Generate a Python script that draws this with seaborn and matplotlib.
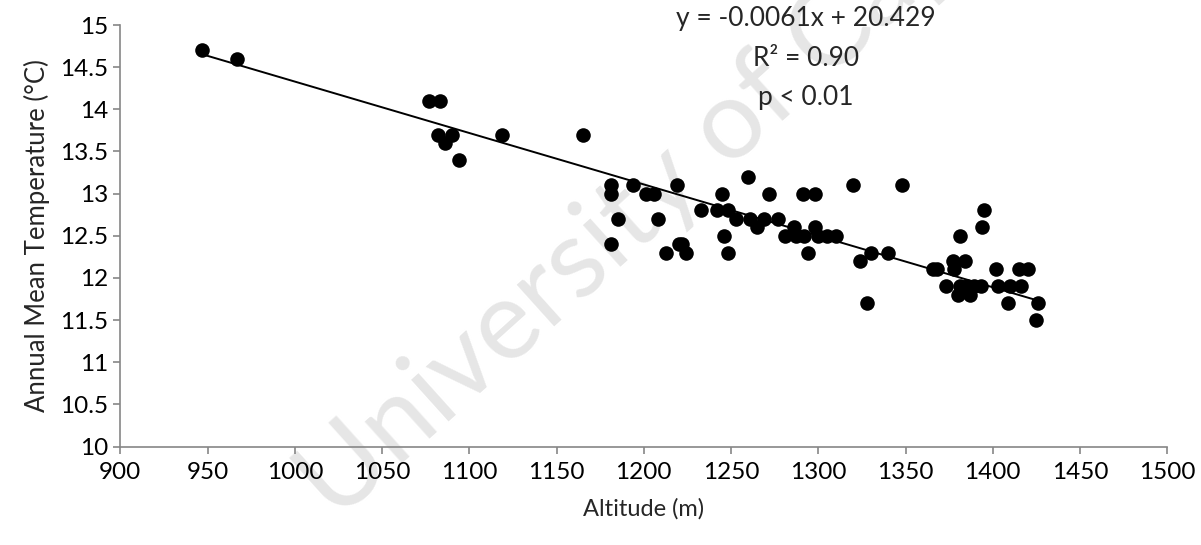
import numpy as np
import pandas as pd
import matplotlib
matplotlib.use("Agg")
import matplotlib.pyplot as plt
import seaborn as sns

# Altitude (m) and annual mean temperature (deg C)
altitude = [947, 967, 1077, 1083, 1082, 1090, 1086, 1094, 1119, 1165,
            1181, 1181, 1185, 1181, 1194, 1201, 1206, 1208, 1219, 1213,
            1220, 1222, 1224, 1233, 1242, 1245, 1248, 1246, 1248, 1260,
            1253, 1261, 1269, 1265, 1272, 1277, 1281, 1287, 1292, 1286,
            1291, 1298, 1298, 1294, 1300, 1305, 1310, 1320, 1330, 1324,
            1328, 1340, 1348, 1395, 1394, 1381, 1377, 1384, 1366, 1368,
            1378, 1402, 1415, 1420, 1373, 1381, 1385, 1389, 1393, 1380,
            1387, 1403, 1410, 1416, 1409, 1426, 1425]
temperature = [14.7, 14.6, 14.1, 14.1, 13.7, 13.7, 13.6, 13.4, 13.7, 13.7,
               13.1, 13.0, 12.7, 12.4, 13.1, 13.0, 13.0, 12.7, 13.1, 12.3,
               12.4, 12.4, 12.3, 12.8, 12.8, 13.0, 12.8, 12.5, 12.3, 13.2,
               12.7, 12.7, 12.7, 12.6, 13.0, 12.7, 12.5, 12.5, 12.5, 12.6,
               13.0, 13.0, 12.6, 12.3, 12.5, 12.5, 12.5, 13.1, 12.3, 12.2,
               11.7, 12.3, 13.1, 12.8, 12.6, 12.5, 12.2, 12.2, 12.1, 12.1,
               12.1, 12.1, 12.1, 12.1, 11.9, 11.9, 11.9, 11.9, 11.9, 11.8,
               11.8, 11.9, 11.9, 11.9, 11.7, 11.7, 11.5]

# trendline reported on the chart
slope = -0.0061
intercept = 20.429

x_ticks = list(range(900, 1501, 50))
y_ticks = [10, 10.5, 11, 11.5, 12, 12.5, 13, 13.5, 14, 14.5, 15]
y_tick_labels = ["10", "10.5", "11", "11.5", "12", "12.5", "13", "13.5", "14", "14.5", "15"]

df = pd.DataFrame({"Altitude": altitude, "Temp": temperature})
trend_x = [min(altitude), max(altitude)]
trend = pd.DataFrame({"Altitude": trend_x,
                      "Temp": [slope * v + intercept for v in trend_x]})

sns.set_style("white")
plt.rcParams["font.family"] = ["Lato", "DejaVu Sans"]

fig = plt.figure(figsize=(12.01, 5.45), dpi=100)
ax = fig.add_axes([0.1002, 0.1807, 0.8717, 0.7734])
ax.set_facecolor("none")

# watermark
fig.text(0.28, 0.04, "University of Cape Town", fontsize=80, color="#e6e6e6",
         rotation=42, rotation_mode="anchor", ha="left", va="baseline", zorder=-1)

sns.lineplot(data=trend, x="Altitude", y="Temp", ax=ax, color="black",
             linewidth=1.4, zorder=2)
sns.scatterplot(data=df, x="Altitude", y="Temp", ax=ax, color="black",
                s=110, edgecolor="black", linewidth=0, zorder=3)

ax.set_xlim(900, 1500)
ax.set_ylim(10, 15)
ax.set_xticks(x_ticks)
ax.set_yticks(y_ticks)
ax.set_yticklabels(y_tick_labels)
ax.tick_params(axis="both", labelsize=17.5, colors="black", direction="out",
               length=5, width=1.2, color="#868686", left=True, bottom=True, pad=6)
ax.tick_params(axis="y", pad=4)
for side in ["top", "right"]:
    ax.spines[side].set_visible(False)
for side in ["left", "bottom"]:
    ax.spines[side].set_color("#868686")
    ax.spines[side].set_linewidth(1.2)

ax.set_xlabel("Altitude (m)", fontsize=17, labelpad=11)
ax.set_ylabel("Annual Mean Temperature (°C)", fontsize=18.5, labelpad=7)

fig.text(0.671, 0.893, "y = -0.0061x + 20.429\nR² = 0.90\np < 0.01",
         ha="center", va="center", fontsize=19, linespacing=1.72)

fig.savefig("out.png", dpi=100)
